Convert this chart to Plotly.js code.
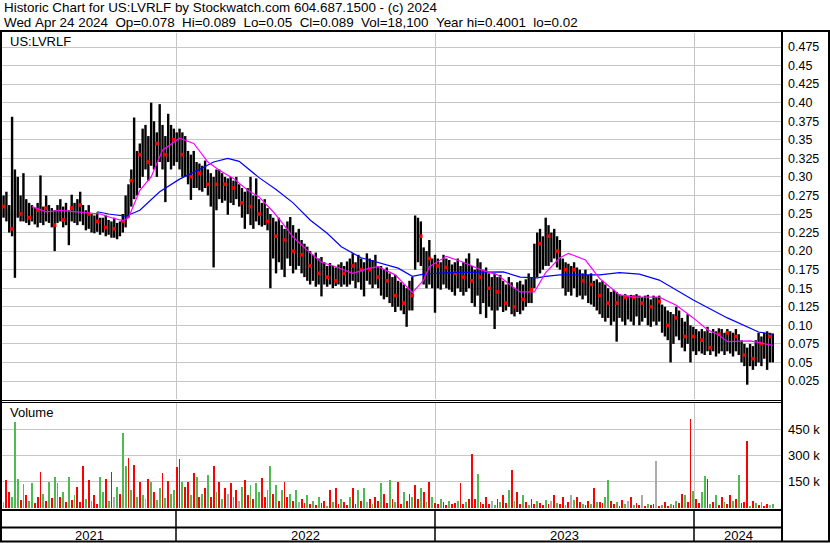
<!DOCTYPE html>
<html><head><meta charset="utf-8">
<script src="https://cdn.plot.ly/plotly-3.0.1.min.js"></script>
<style>html,body{margin:0;padding:0;background:#fff;}#chart{width:830px;height:543px;}</style>
</head><body><div id="chart"></div>
<script>
// ---- sampling of the price history (one sample every 4 calendar days) ----
const startDate = '2021-05-03';
const stepDays = 4;

const hi = [
.275,.28,.262,.381,.31,.30,.275,.305,.27,.265,
.262,.258,.265,.302,.26,.275,.262,.258,.255,.262,
.27,.26,.265,.255,.276,.265,.27,.28,.262,.255,
.262,.25,.248,.252,.245,.245,.248,.242,.24,.245,
.238,.24,.25,.275,.29,.31,.38,.335,.345,.365,
.37,.355,.40,.375,.36,.398,.37,.355,.385,.37,
.365,.36,.365,.36,.355,.335,.33,.335,.32,.318,
.315,.322,.31,.305,.30,.31,.31,.305,.30,.298,
.30,.295,.30,.29,.285,.28,.285,.30,.275,.298,
.27,.265,.27,.258,.25,.245,.24,.245,.235,.23,
.24,.246,.235,.225,.23,.215,.21,.206,.20,.195,
.198,.19,.192,.185,.18,.184,.18,.178,.182,.185,
.18,.186,.19,.197,.185,.195,.19,.185,.197,.19,
.188,.195,.18,.18,.175,.178,.17,.165,.168,.16,
.158,.155,.15,.16,.165,.248,.245,.24,.205,.20,
.215,.19,.195,.19,.185,.195,.19,.188,.182,.185,
.19,.18,.185,.19,.197,.18,.175,.19,.185,.175,
.178,.17,.165,.17,.165,.168,.16,.155,.165,.158,
.15,.158,.16,.155,.162,.17,.165,.21,.225,.23,
.22,.245,.235,.225,.23,.22,.215,.19,.185,.183,
.18,.185,.178,.175,.17,.175,.168,.17,.16,.162,
.158,.16,.155,.15,.145,.148,.145,.142,.141,.142,
.14,.141,.14,.142,.14,.138,.14,.141,.135,.14,
.138,.14,.128,.125,.12,.118,.115,.125,.12,.11,
.105,.115,.10,.098,.095,.092,.095,.092,.098,.09,
.095,.092,.096,.095,.09,.095,.092,.09,.095,.088,
.08,.075,.07,.075,.072,.08,.09,.085,.09,.092,
.09,.089];

const lo = [
.245,.24,.225,.22,.164,.245,.24,.24,.238,.235,
.24,.236,.232,.238,.235,.24,.238,.232,.20,.238,
.24,.232,.235,.208,.24,.238,.235,.24,.235,.228,
.23,.225,.224,.226,.222,.225,.22,.222,.218,.218,
.216,.22,.225,.232,.245,.26,.27,.275,.285,.30,
.31,.295,.315,.31,.30,.32,.31,.266,.32,.31,
.315,.32,.31,.30,.30,.29,.269,.285,.285,.282,
.28,.285,.275,.26,.178,.255,.27,.265,.268,.249,
.265,.262,.27,.26,.245,.23,.25,.235,.23,.24,
.235,.233,.235,.228,.15,.19,.17,.185,.175,.165,
.19,.18,.17,.175,.18,.17,.165,.16,.155,.16,
.152,.155,.139,.155,.152,.155,.15,.153,.155,.152,
.155,.152,.155,.16,.15,.158,.148,.139,.16,.155,
.15,.155,.15,.14,.135,.138,.13,.125,.118,.125,
.12,.115,.098,.12,.12,.175,.185,.18,.155,.15,
.155,.15,.117,.15,.148,.155,.15,.148,.145,.14,
.15,.145,.14,.145,.15,.13,.125,.14,.115,.13,
.11,.125,.12,.095,.12,.125,.118,.12,.125,.115,
.112,.118,.115,.12,.125,.13,.13,.15,.165,.17,
.175,.18,.18,.185,.19,.178,.175,.15,.14,.145,
.14,.15,.138,.14,.135,.14,.13,.128,.125,.12,
.115,.11,.105,.11,.10,.105,.078,.11,.105,.10,
.108,.105,.10,.112,.10,.105,.11,.10,.098,.105,
.10,.105,.09,.085,.08,.05,.075,.085,.08,.07,
.065,.075,.05,.065,.06,.065,.062,.06,.065,.06,
.065,.058,.062,.065,.06,.065,.062,.058,.065,.06,
.05,.045,.02,.045,.04,.045,.05,.045,.055,.04,
.05,.05];

const cl = [
.26,.255,.235,.23,.245,.27,.25,.26,.25,.245,
.252,.25,.255,.25,.248,.258,.245,.24,.235,.25,
.255,.242,.248,.24,.258,.25,.26,.262,.245,.24,
.25,.235,.232,.24,.23,.235,.232,.228,.225,.23,
.225,.232,.24,.26,.275,.295,.30,.31,.33,.345,
.335,.32,.35,.33,.345,.36,.34,.33,.38,.345,
.35,.34,.33,.33,.315,.305,.30,.31,.30,.305,
.295,.31,.29,.28,.265,.29,.295,.285,.29,.275,
.28,.285,.29,.275,.265,.255,.27,.26,.25,.265,
.25,.245,.25,.24,.225,.215,.22,.215,.205,.215,
.22,.21,.20,.21,.205,.195,.185,.19,.18,.185,
.175,.17,.175,.168,.165,.172,.165,.16,.17,.165,
.17,.168,.175,.18,.17,.178,.175,.17,.18,.175,
.172,.178,.165,.165,.158,.16,.15,.145,.14,.135,
.138,.13,.125,.14,.14,.21,.225,.22,.18,.17,
.19,.175,.165,.18,.172,.185,.178,.175,.17,.17,
.18,.168,.165,.175,.19,.16,.155,.17,.165,.16,
.155,.15,.145,.14,.145,.15,.135,.13,.14,.13,
.125,.132,.13,.135,.14,.15,.148,.185,.20,.21,
.195,.215,.22,.21,.215,.20,.21,.18,.175,.178,
.17,.175,.165,.168,.16,.165,.158,.155,.15,.145,
.14,.14,.135,.13,.128,.135,.13,.14,.14,.138,
.14,.14,.138,.14,.135,.13,.138,.14,.125,.13,
.128,.132,.115,.11,.10,.095,.10,.11,.095,.09,
.085,.09,.08,.085,.08,.078,.08,.075,.085,.07,
.082,.075,.088,.085,.075,.09,.08,.07,.085,.075,
.065,.06,.055,.06,.055,.065,.07,.075,.08,.085,
.085,.089];

// volume in thousands of shares
const volK = [
30,160,90,60,496,167,45,133,70,40,
140,25,60,207,80,35,150,55,175,140,
60,90,30,175,45,70,120,30,238,50,
160,40,70,20,175,90,165,40,205,60,
120,80,427,238,285,100,248,60,150,70,
50,167,150,90,45,110,200,55,155,80,
100,232,277,150,120,150,70,201,175,60,
80,110,190,60,237,90,150,50,110,80,
140,60,100,40,120,160,70,130,50,140,
90,170,60,100,242,80,130,40,100,150,
60,80,40,100,30,50,25,70,20,40,
15,60,25,40,10,100,30,110,20,50,
30,15,60,110,20,100,40,110,30,50,
20,60,35,140,80,25,160,50,30,150,
20,90,40,80,60,130,50,110,90,30,
150,60,25,20,50,30,15,40,20,25,
40,140,20,30,50,311,50,196,30,20,
60,20,40,15,50,30,70,25,100,219,
40,90,20,75,30,15,50,20,35,25,
15,45,20,40,70,25,20,60,15,30,
70,45,60,30,20,15,40,20,115,30,
30,25,60,156,40,20,30,10,45,20,
40,60,15,25,15,70,10,20,15,20,
271,10,15,30,10,20,15,40,25,80,
70,30,508,95,50,25,90,179,162,20,
30,75,15,60,30,20,75,40,50,190,
25,30,386,10,40,25,15,30,10,20,
15,18];

// volume bar colour codes: G = up, R = down, N = unchanged
const volDir = (
"NRRGGGRGRG"+"GRRRGRGRGG"+"RGRGRGRRRG"+"RGRRGGRGRN"+"GRGGRGRGRG"+
"NRGRGGRGRG"+"GRRGRRGRGR"+"GRGRRGRGRN"+"RGRNGRRGRG"+"GRRGGRGRGR"+
"RGRGNRRGRG"+"RGRRGRGRRG"+"RRGRRGRGNR"+"GRRGRRGRGR"+"RGRRGRRGRG"+
"RGRRGRRGRR"+"GRRGRRRGRR"+"RRNGRGRRGR"+"GRRGRGRRGR"+"RGRNRGRRGR"+
"NGRRGRRGRG"+"RRGGRRGRRG"+"NRGRRNRGRR"+"NRGRRGRGRR"+"GRRGRRGGRG"+
"RGRRGRRGRG"+"RRRGRGRGRR"+"NG").split('');

// moving averages (sample index -> value)
const maFastIdx = [10,15,20,27,34,38,42,44,48,52,56,62,67,72,76,81,86,90,95,98,102,107,112,117,123,129,132,138,144,148,150,156,162,168,174,179,182,187,191,196,199,205,210,217,222,231,237,243,248,252,255,263,269,271];
const maFastVal = [.26,.253,.255,.252,.25,.245,.241,.245,.282,.30,.336,.352,.345,.32,.309,.298,.282,.273,.253,.239,.219,.201,.185,.179,.17,.177,.179,.168,.144,.161,.179,.193,.185,.175,.168,.153,.145,.145,.171,.191,.197,.188,.163,.141,.138,.138,.127,.11,.094,.087,.078,.079,.075,.073];
const maSlowIdx = [33,37,43,48,55,62,70,74,79,83,90,96,102,108,114,119,126,133,139,144,148,157,168,176,182,188,191,196,210,217,224,231,243,255,266,271];
const maSlowVal = [.253,.25,.247,.255,.28,.297,.312,.32,.325,.321,.299,.283,.265,.242,.224,.206,.191,.184,.177,.166,.169,.171,.171,.172,.165,.164,.166,.168,.168,.171,.169,.161,.134,.11,.091,.088];

const priceTickVals = [0.025,0.05,0.075,0.10,0.125,0.15,0.175,0.20,0.225,0.25,0.275,0.30,0.325,0.35,0.375,0.40,0.425,0.45,0.475];
const priceTickText = ['0.025','0.05','0.075','0.10','0.125','0.15','0.175','0.20','0.225','0.25','0.275','0.30','0.325','0.35','0.375','0.40','0.425','0.45','0.475'];
const volTickVals = [150000,300000,450000];
const volTickText = ['150 k','300 k','450 k'];
const yearLabels = ['2021','2022','2023','2024'];
const yearBounds = ['2021-04-30 19:00','2022-01-01','2023-01-01','2024-01-01','2024-05-04'];

const headerLine1 = 'Historic Chart for US:LVRLF by Stockwatch.com 604.687.1500 - (c) 2024';
const headerLine2 = 'Wed Apr 24 2024  Op=0.078  Hi=0.089  Lo=0.05  Cl=0.089  Vol=18,100  Year hi=0.4001  lo=0.02';
const symbolLabel = 'US:LVRLF';

// ---------------------------------------------------------------
const W = 830, H = 543;
const px = v => v / W;
const py = v => 1 - v / H;
const dayMs = 86400000;
const t0 = Date.parse(startDate + 'T00:00:00Z');
const dateAt = i => new Date(t0 + i * stepDays * dayMs).toISOString().slice(0, 10);
const dates = hi.map((_, i) => dateAt(i));

const bx = [], by = [];
dates.forEach((d, i) => { bx.push(d, d, null); by.push(lo[i], hi[i], null); });

const dotX = [], dotY = [];
dates.forEach((d, i) => { if (i % 3 === 0) { dotX.push(d); dotY.push(cl[i]); } });

const colMap = {G: '#4fba4f', R: '#ff0000', N: '#ababab'};
const volColors = volDir.map(c => colMap[c]);

const FONT = 'Liberation Sans, Arial, sans-serif';

const traces = [
  {x: bx, y: by, type: 'scatter', mode: 'lines', line: {color: '#000', width: 2.4}, xaxis: 'x', yaxis: 'y', hoverinfo: 'skip'},
  {x: dotX, y: dotY, type: 'scatter', mode: 'markers', marker: {symbol: 'square', size: 3.6, color: '#ff0000', line: {width: 0}}, xaxis: 'x', yaxis: 'y'},
  {x: maSlowIdx.map(dateAt), y: maSlowVal, type: 'scatter', mode: 'lines', line: {color: '#0000ff', width: 1.2}, xaxis: 'x', yaxis: 'y'},
  {x: maFastIdx.map(dateAt), y: maFastVal, type: 'scatter', mode: 'lines', line: {color: '#ff00ff', width: 1.2}, xaxis: 'x', yaxis: 'y'},
  {x: dates, y: volK.map(v => v * 1000), type: 'bar', marker: {color: volColors, line: {width: 0}}, width: 2.6 * dayMs, xaxis: 'x2', yaxis: 'y2'}
];

const xRange = [yearBounds[0], yearBounds[yearBounds.length - 1]];
const xDomain = [px(2), px(782)];
const gridCol = '#c6c6c6';
const yearGrid = yearBounds.slice(1, -1);

const shapes = [];
const ln = (x0, y0, x1, y1, w) => shapes.push({type: 'line', xref: 'paper', yref: 'paper', x0: px(x0), y0: py(y0), x1: px(x1), y1: py(y1), line: {color: '#000', width: w}});
ln(0, 31, 830, 31, 2);
ln(1, 31, 1, 542, 2);
ln(829, 31, 829, 542, 2);
ln(0, 541.5, 830, 541.5, 2);
ln(782, 31, 782, 542, 2);
ln(0, 400.5, 782, 400.5, 1);
ln(0, 402.5, 782, 402.5, 1);
ln(0, 510, 782, 510, 2);
ln(0, 527.5, 782, 527.5, 2);
yearGrid.forEach(d => shapes.push({type: 'line', xref: 'x', yref: 'paper', x0: d, x1: d, y0: py(511), y1: py(541), line: {color: '#000', width: 1.5}}));

const annotations = [
  {text: headerLine1, x: px(2), y: py(8), xref: 'paper', yref: 'paper', xanchor: 'left', yanchor: 'middle', showarrow: false, font: {family: FONT, size: 13.4, color: '#000'}},
  {text: headerLine2.replace(/ /g, '\u00a0'), x: px(2), y: py(22), xref: 'paper', yref: 'paper', xanchor: 'left', yanchor: 'middle', showarrow: false, font: {family: FONT, size: 13.4, color: '#000'}},
  {text: symbolLabel, x: px(8), y: py(41), xref: 'paper', yref: 'paper', xanchor: 'left', yanchor: 'middle', showarrow: false, font: {family: FONT, size: 13, color: '#000'}},
  {text: 'Volume', x: px(8), y: py(413), xref: 'paper', yref: 'paper', xanchor: 'left', yanchor: 'middle', showarrow: false, font: {family: FONT, size: 13, color: '#000'}}
];
const tms = s => Date.parse(s.replace(' ', 'T') + (s.length > 10 ? ':00Z' : 'T00:00:00Z'));
yearLabels.forEach((lab, k) => {
  const mid = new Date((tms(yearBounds[k]) + tms(yearBounds[k + 1])) / 2).toISOString().slice(0, 19).replace('T', ' ');
  annotations.push({text: lab, x: mid, y: py(535), xref: 'x', yref: 'paper', xanchor: 'center', yanchor: 'middle', showarrow: false, font: {family: FONT, size: 13, color: '#000'}});
});

// price axis: 0.475 at y=47px, 0.025 at y=381px
const pPerPx = 0.45 / 334;
const yTop = 33, yBot = 399;
const priceRange = [0.025 - (yBot - 381) * pPerPx, 0.475 + (47 - yTop) * pPerPx];
// volume axis: 150k per 26px, 0 at 507.5px
const vPerPx = 150000 / 26;
const vTop = 403, vBot = 508.5;
const volRange = [-(vBot - 507.5) * vPerPx, (507.5 - vTop) * vPerPx];

const layout = {
  width: W, height: H,
  margin: {l: 0, r: 0, t: 0, b: 0},
  paper_bgcolor: '#fff', plot_bgcolor: '#fff',
  showlegend: false,
  font: {family: FONT, size: 12, color: '#000'},
  xaxis: {domain: xDomain, range: xRange, type: 'date', anchor: 'y', tickmode: 'array', tickvals: yearGrid, showticklabels: false, ticks: '', showgrid: true, gridcolor: gridCol, gridwidth: 1, zeroline: false, showline: false},
  xaxis2: {domain: xDomain, range: xRange, type: 'date', anchor: 'y2', matches: 'x', tickmode: 'array', tickvals: yearGrid, showticklabels: false, ticks: '', showgrid: true, gridcolor: gridCol, gridwidth: 1, zeroline: false, showline: false},
  yaxis: {domain: [py(yBot), py(yTop)], range: priceRange, anchor: 'x', side: 'right', tickmode: 'array', tickvals: priceTickVals, ticktext: priceTickText, ticks: '', ticklabelstandoff: 5, showgrid: true, gridcolor: gridCol, gridwidth: 1, zeroline: false, showline: false, tickfont: {family: FONT, size: 12.5, color: '#000'}},
  yaxis2: {domain: [py(vBot), py(vTop)], range: volRange, anchor: 'x2', side: 'right', tickmode: 'array', tickvals: volTickVals, ticktext: volTickText, ticks: '', ticklabelstandoff: 5, showgrid: true, gridcolor: gridCol, gridwidth: 1, zeroline: false, showline: false, tickfont: {family: FONT, size: 13, color: '#000'}},
  shapes: shapes,
  annotations: annotations,
  bargap: 0
};

Plotly.newPlot('chart', traces, layout, {staticPlot: true, displayModeBar: false});
</script>
</body></html>
